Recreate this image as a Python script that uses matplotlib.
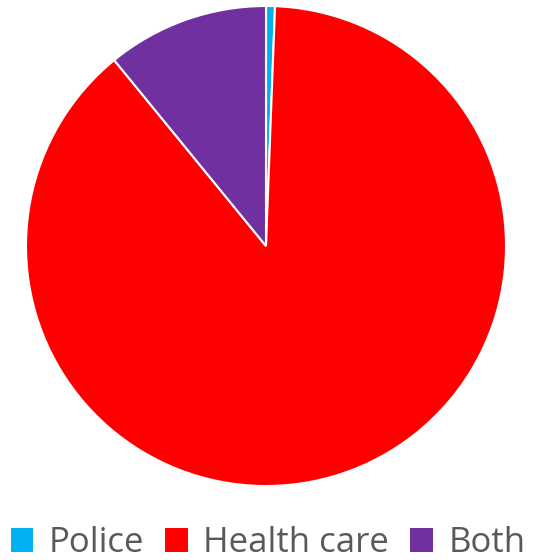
import matplotlib.pyplot as plt
from matplotlib.patches import Patch

labels = ['Police', 'Health care', 'Both']
values = [0.6, 88.5, 10.9]
colors = ['#00B0F0', '#FF0000', '#7030A0']

fig = plt.figure(figsize=(5.36, 5.6), dpi=100)
ax = fig.add_axes([26/536, 74/560, 480/536, 480/560])
ax.pie(values, colors=colors, startangle=90, counterclock=False,
       wedgeprops=dict(edgecolor='white', linewidth=1.5), radius=1)
ax.set_xlim(-1, 1)
ax.set_ylim(-1, 1)
ax.set_aspect('equal')
ax.axis('off')

handles = [Patch(facecolor=c, edgecolor='none') for c in colors]
fig.legend(handles, labels, loc='lower center', bbox_to_anchor=(0.5, -0.056),
           ncol=3, frameon=False, handlelength=0.65, handleheight=0.65,
           handletextpad=0.45, columnspacing=0.6,
           prop={'family': 'Open Sans', 'size': 25}, labelcolor='#595959')

fig.savefig('out.png', dpi=100)
